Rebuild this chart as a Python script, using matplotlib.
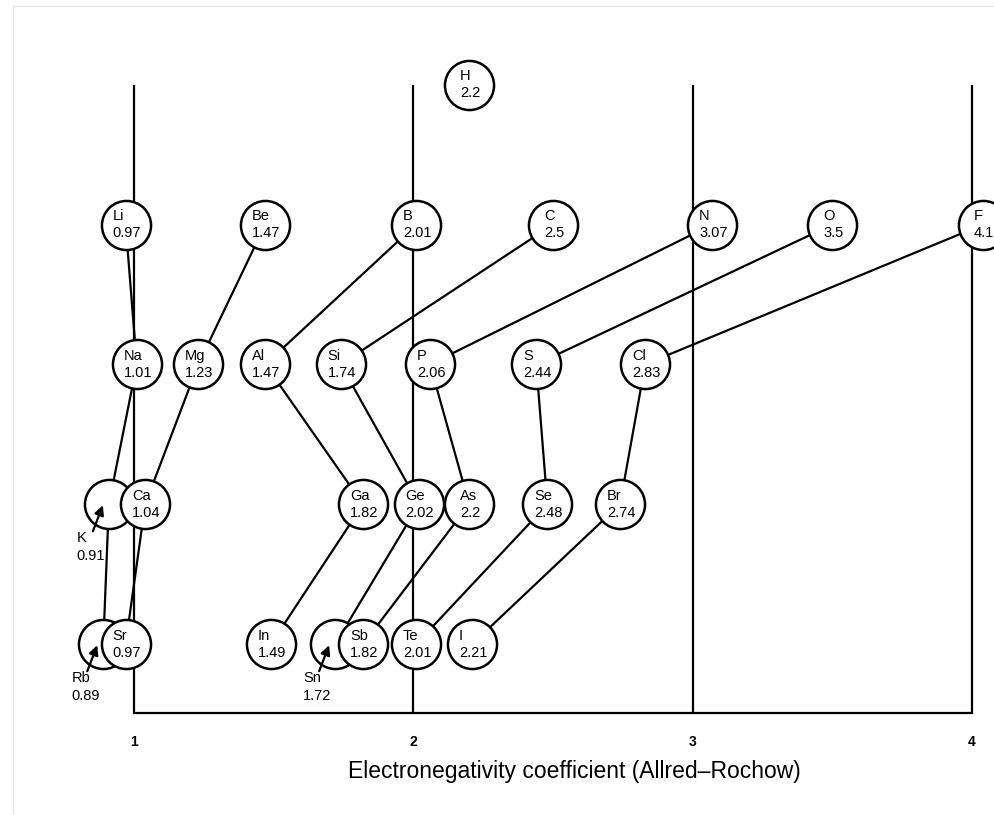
import numpy as np
import matplotlib
matplotlib.use("Agg")
import matplotlib.pyplot as plt
from matplotlib.patches import Rectangle

plt.rcParams["font.family"] = ["Liberation Sans", "DejaVu Sans"]

# elements, Allred-Rochow electronegativity, period (row) and group (column link)
symbols = ["H",
           "Li", "Be", "B", "C", "N", "O", "F",
           "Na", "Mg", "Al", "Si", "P", "S", "Cl",
           "K", "Ca", "Ga", "Ge", "As", "Se", "Br",
           "Rb", "Sr", "In", "Sn", "Sb", "Te", "I"]
values = [2.2,
          0.97, 1.47, 2.01, 2.5, 3.07, 3.5, 4.1,
          1.01, 1.23, 1.47, 1.74, 2.06, 2.44, 2.83,
          0.91, 1.04, 1.82, 2.02, 2.2, 2.48, 2.74,
          0.89, 0.97, 1.49, 1.72, 1.82, 2.01, 2.21]
periods = [1] + [2] * 7 + [3] * 7 + [4] * 7 + [5] * 7
groups = [1] + [1, 2, 13, 14, 15, 16, 17] * 4
# circles partly hidden behind a neighbour, labelled outside with an arrow
outside = ["K", "Rb", "Sn"]
ticks = [1, 2, 3, 4]
xlabel = "Electronegativity coefficient (Allred\u2013Rochow)"

W, H = 994, 815
XS = 838 / 3          # px per electronegativity unit
YS = 139.9            # px per period row
Y3 = 364.4            # px row of period 3
fig = plt.figure(figsize=(W / 100, H / 100), dpi=100)
base_px = 713
ax = fig.add_axes([0, (H - base_px) / H, 1, base_px / H])
ax.set_xlim(1 - 134 / XS, 1 + (W - 134) / XS)
ax.set_ylim(3 + (base_px - Y3) / YS, 3 - Y3 / YS)

for s in ["top", "left", "right"]:
    ax.spines[s].set_visible(False)
ax.spines["bottom"].set_bounds(1, 4)
ax.spines["bottom"].set_linewidth(1.6)
ax.set_yticks([])
ax.set_xticks(ticks)
ax.set_xticklabels([str(t) for t in ticks], fontsize=10, fontweight="bold")
ax.tick_params(axis="x", length=0, pad=16)
ax.set_xlabel(xlabel, fontsize=16.5)
ax.xaxis.set_label_coords(574 / W, -47 / base_px)

top = 3 - (Y3 - 85) / YS
ax.vlines(ticks, top, ax.get_ylim()[0], color="black", lw=1.6, zorder=1)

# F sits at the right edge of the page
xpos = np.minimum(values, 4.04)
pos = {s: (x, p) for s, x, p in zip(symbols, xpos, periods)}

# links down each group
for g in sorted(set(groups)):
    members = [s for s, gg in zip(symbols, groups) if gg == g and s != "H"]
    members.sort(key=lambda s: pos[s][1])
    for a, b in zip(members[:-1], members[1:]):
        ax.plot([pos[a][0], pos[b][0]], [pos[a][1], pos[b][1]],
                color="black", lw=1.6, zorder=2, clip_on=False)

size = 1250
for s, v in zip(symbols, values):
    x, y = pos[s]
    z = 3 if s in outside else 4
    ax.scatter([x], [y], s=size, facecolor="white", edgecolor="black",
               linewidth=1.8, zorder=z, clip_on=False)
    if s not in outside:
        ax.text(x + 1 / XS, y, f"{s}\n{v}", ha="center", va="center",
                multialignment="left", fontsize=10.5, linespacing=1.3,
                zorder=5, clip_on=False)

for s in outside:
    v = values[symbols.index(s)]
    x, y = pos[s]
    head = (x - 6 / XS, y + 1 / YS)
    tail = (x - 16 / XS, y + 27 / YS)
    ax.annotate("", xy=head, xytext=tail,
                arrowprops=dict(arrowstyle="-|>", color="black", lw=1.6,
                                mutation_scale=14, shrinkA=0, shrinkB=0),
                zorder=6, annotation_clip=False)
    ax.text(x - 32 / XS, y + 27 / YS, f"{s}\n{v}", ha="left", va="top",
            fontsize=10.5, linespacing=1.3, zorder=6, clip_on=False)

fig.patches.append(Rectangle((13 / W, -0.1), 1.2, 1.1 - 6 / H, transform=fig.transFigure,
                             fill=False, edgecolor="#e8e8e8", lw=1, zorder=0))

fig.savefig("out.png", dpi=100)
